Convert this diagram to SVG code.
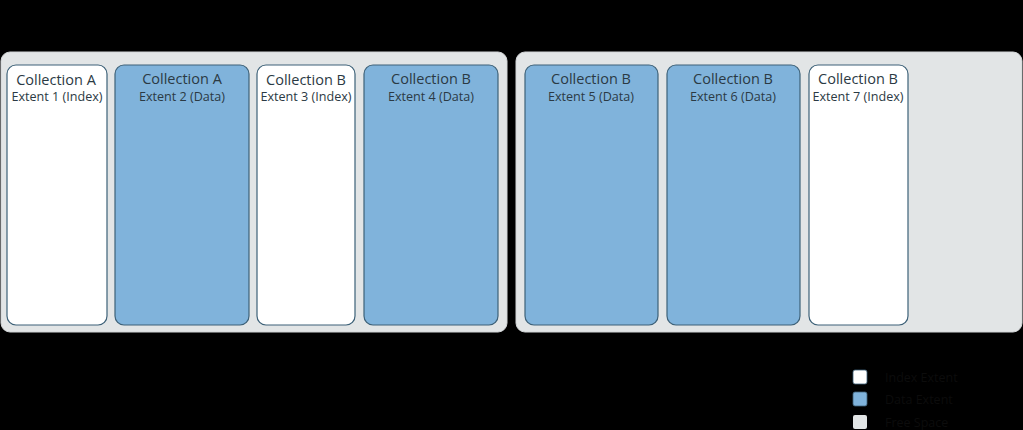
<svg xmlns="http://www.w3.org/2000/svg" width="1023" height="430" viewBox="0 0 1023 430">
<style>
.file{fill:#e2e5e6;stroke:#d2d5d7;stroke-width:1}
.idx{fill:#ffffff;stroke:#3d6178;stroke-width:1.2}
.dat{fill:#80b3db;stroke:#3d6178;stroke-width:1.2}
.t1{font-family:"Open Sans","Liberation Sans",sans-serif;font-size:14.5px;fill:#2b3a44;text-anchor:middle}
.t2{font-family:"Open Sans","Liberation Sans",sans-serif;font-size:12.6px;fill:#2b3a44;text-anchor:middle}
.lg{font-family:"Open Sans","Liberation Sans",sans-serif;font-size:12.5px;fill:#0c0c0c}
</style>
<rect x="0" y="0" width="1023" height="430" fill="#000000"/>
<g id="file1"><rect class="file" x="1" y="52" width="506" height="280" rx="9"/></g>
<g id="file2"><rect class="file" x="516" y="52" width="506" height="280" rx="9"/></g>
<g id="extent1"><rect class="idx" x="7" y="65" width="100" height="260" rx="9"/><text class="t1" x="56" y="85">Collection A</text><text class="t2" x="57" y="101">Extent 1 (Index)</text></g>
<g id="extent2"><rect class="dat" x="115" y="65" width="134" height="260" rx="9"/><text class="t1" x="182" y="84">Collection A</text><text class="t2" x="182" y="101">Extent 2 (Data)</text></g>
<g id="extent3"><rect class="idx" x="257" y="65" width="98" height="260" rx="9"/><text class="t1" x="306" y="85">Collection B</text><text class="t2" x="306" y="101">Extent 3 (Index)</text></g>
<g id="extent4"><rect class="dat" x="364" y="65" width="134" height="260" rx="9"/><text class="t1" x="431" y="84">Collection B</text><text class="t2" x="431" y="101">Extent 4 (Data)</text></g>
<g id="extent5"><rect class="dat" x="525" y="65" width="133" height="260" rx="9"/><text class="t1" x="591" y="84">Collection B</text><text class="t2" x="591" y="101">Extent 5 (Data)</text></g>
<g id="extent6"><rect class="dat" x="667" y="65" width="133" height="260" rx="9"/><text class="t1" x="733" y="84">Collection B</text><text class="t2" x="733" y="101">Extent 6 (Data)</text></g>
<g id="extent7"><rect class="idx" x="809" y="65" width="99" height="260" rx="9"/><text class="t1" x="858" y="84">Collection B</text><text class="t2" x="858" y="101">Extent 7 (Index)</text></g>
<g id="connectors"></g>
<g id="legend">
<rect x="853" y="370" width="14" height="14" rx="2" fill="#ffffff" stroke="#3d6178" stroke-width="0.8"/>
<text class="lg" x="885" y="382">Index Extent</text>
<rect x="853" y="392" width="14" height="14" rx="2" fill="#80b3db" stroke="#3d6178" stroke-width="0.8"/>
<text class="lg" x="885" y="404">Data Extent</text>
<rect x="853" y="415" width="14" height="14" rx="2" fill="#e2e5e6"/>
<text class="lg" x="885" y="427">Free Space</text>
</g>
</svg>
